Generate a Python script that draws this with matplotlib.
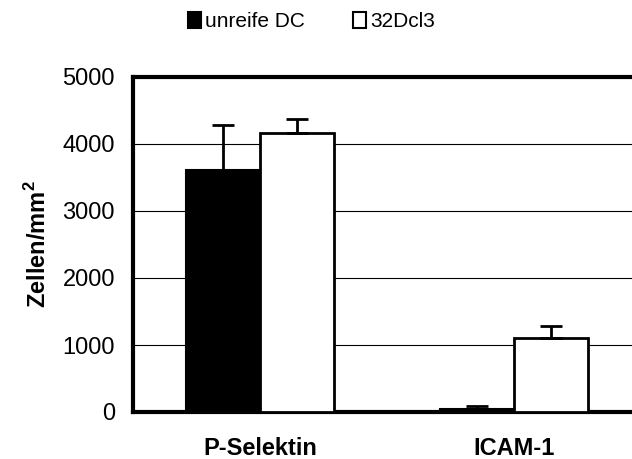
import numpy as np
import matplotlib
matplotlib.use("Agg")
import matplotlib.pyplot as plt
from matplotlib.patches import Patch

plt.rcParams['font.family'] = ['Liberation Sans', 'DejaVu Sans']
plt.rcParams['mathtext.fontset'] = 'custom'
plt.rcParams['mathtext.bf'] = 'Liberation Sans:bold'

groups = ['P-Selektin', 'ICAM-1']
unreife = [3610, 50]
unreife_err = [680, 45]
dcl3 = [4170, 1110]
dcl3_err = [200, 175]

fig = plt.figure(figsize=(6.32, 4.59), dpi=100)
ax = fig.add_axes([133/632, 47/459, 508/632, 335/459])

x = np.arange(len(groups))
w = 0.29
err_kw = dict(elinewidth=2, capsize=8, capthick=2, ecolor='black')
ax.bar(x - w/2, unreife, w, color='black', edgecolor='black', linewidth=1.5,
       yerr=[np.zeros(2), unreife_err], error_kw=err_kw, zorder=3)
ax.bar(x + w/2, dcl3, w, color='white', edgecolor='black', linewidth=2,
       yerr=[np.zeros(2), dcl3_err], error_kw=err_kw, zorder=3)

ax.set_xlim(-0.5, 1.5)
ax.set_ylim(0, 5000)
ax.set_yticks(np.arange(0, 5001, 1000))
ax.yaxis.grid(True, color='black', linewidth=0.8)
ax.set_axisbelow(True)
ax.set_xticks(x)
ax.set_xticklabels(groups, fontsize=17, fontweight='bold')
ax.tick_params(axis='x', length=0, pad=18)
ax.tick_params(axis='y', length=0, pad=13, labelsize=17)
for s in ['left', 'top', 'bottom']:
    ax.spines[s].set_linewidth(3)
ax.spines['right'].set_visible(False)
ax.set_ylabel('Zellen/mm$^\\mathbf{2}$', fontsize=17, fontweight='bold', labelpad=8)

handles = [Patch(facecolor='black', edgecolor='black', linewidth=1.5),
           Patch(facecolor='white', edgecolor='black', linewidth=1.5)]
fig.legend(handles, ['unreife DC', '32Dcl3'], loc='center', bbox_to_anchor=(0.493, 0.953),
           ncol=2, frameon=False, fontsize=15, handlelength=0.63, handleheight=0.77,
           handletextpad=0.2, columnspacing=2.3, borderpad=0)

fig.savefig('out.png', dpi=100)
